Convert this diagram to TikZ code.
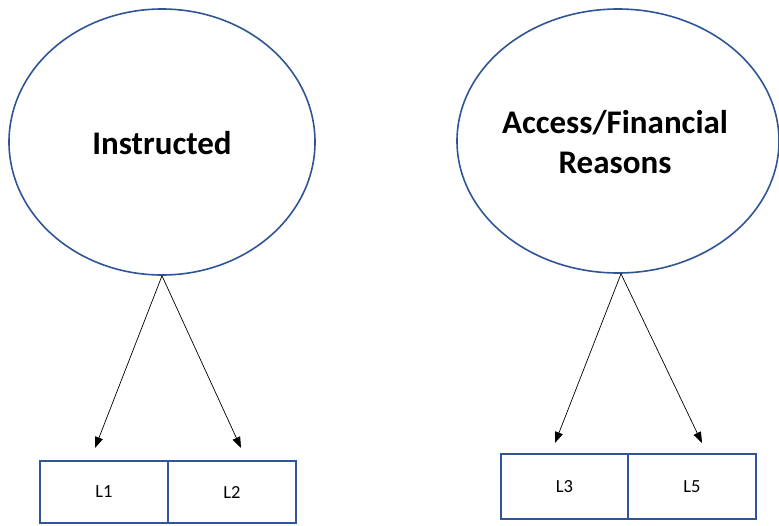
\documentclass[tikz,border=0pt]{standalone}
\usepackage{fontspec}
\setmainfont{Carlito}
\usetikzlibrary{shapes.geometric,arrows.meta}
\definecolor{edgeblue}{HTML}{2F5597}
\tikzset{
  latent/.style={ellipse, draw=edgeblue, line width=1.6pt, inner sep=0pt, fill=white},
  latlabel/.style={inner sep=0pt, font=\fontsize{33}{40}\selectfont\bfseries, align=center},
  indic/.style={rectangle, draw=edgeblue, line width=1.6pt, inner sep=0pt,
    minimum width=128pt, font=\fontsize{18.5}{22}\selectfont},
  load/.style={line width=0.7pt, -{Triangle[length=11pt,width=8pt]}}
}
\begin{document}
\begin{tikzpicture}[x=1pt,y=-1pt]
\useasboundingbox (0,0) rectangle (779,525);
\node[latent, minimum width=306pt, minimum height=266pt] (inst) at (162,142) {};
\node[latlabel] (instlab) at (162,143) {Instructed};
\node[latent, minimum width=322pt, minimum height=264pt] (acc) at (618,141) {};
\node[latlabel] (acclab) at (615,142) {Access/Financial\\Reasons};
\node[indic, minimum height=62pt] (l1) at (104,492) {L1};
\node[indic, minimum height=62pt] (l2) at (232,492) {L2};
\node[indic, minimum height=65pt, minimum width=127pt] (l3) at (564.5,486.5) {L3};
\node[indic, minimum height=65pt] (l5) at (692,486.5) {L5};
\coordinate (t1) at (95,448);
\coordinate (t2) at (241,448);
\coordinate (t3) at (555,443);
\coordinate (t5) at (702,443);
\draw[load] (inst.south) -- (t1);
\draw[load] (inst.south) -- (t2);
\draw[load] ([xshift=3pt]acc.south) -- (t3);
\draw[load] ([xshift=3pt]acc.south) -- (t5);
\end{tikzpicture}
\end{document}
